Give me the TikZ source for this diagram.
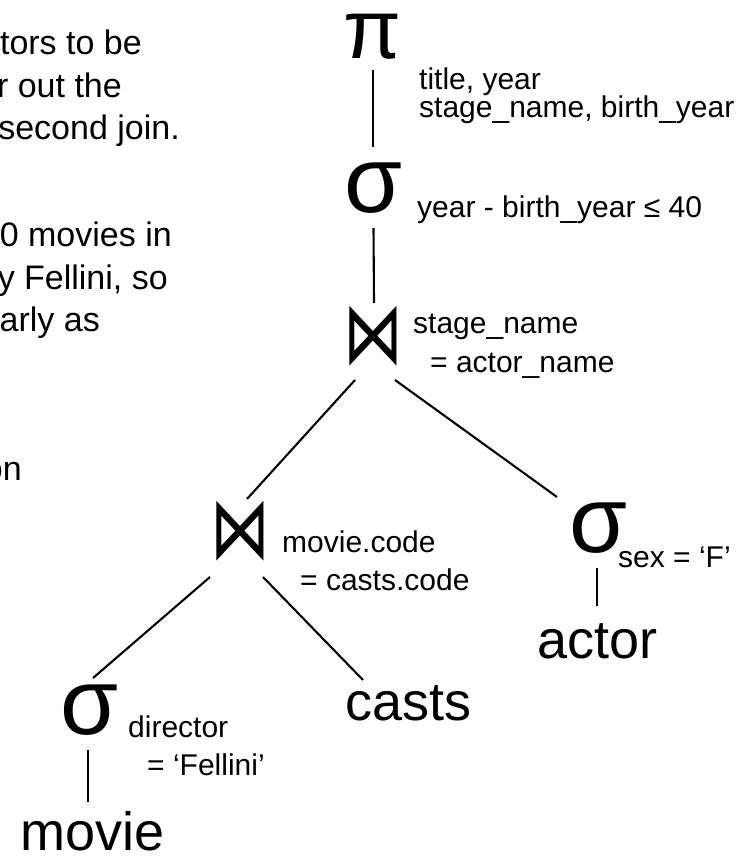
\documentclass[tikz,border=0pt]{standalone}
\usepackage{fontspec}
\setmainfont{Liberation Sans}
\newfontfamily\djvfont{DejaVu Sans}
\usetikzlibrary{calc}
\newcommand{\jointie}{\scalebox{0.83}[1.21]{⋈}}
\begin{document}
\begin{tikzpicture}[x=1pt,y=-1pt,
  side/.style={font=\fontsize{34}{40}\selectfont, anchor=base east, inner sep=0pt},
  lbl/.style={font=\fontsize{30}{30}\selectfont, anchor=base west, inner sep=0pt},
  rel/.style={font=\fontsize{54}{54}\selectfont, anchor=base west, inner sep=0pt},
  opsig/.style={font=\fontsize{94}{94}\selectfont, inner sep=0pt},
  oppi/.style={font=\fontsize{84}{84}\selectfont, inner sep=0pt},
  opjoin/.style={font=\djvfont\fontsize{72}{72}\selectfont, inner sep=0pt},
  edge/.style={line width=2.1pt, line cap=butt}]
\useasboundingbox (0,0) rectangle (744,858);
% clipped side text
\node[side] (t1) at (142,55) {tors to be};
\node[side] (t2) at (122,98) {r out the};
\node[side] (t3) at (180,140) {second join.};
\node[side] (t4) at (172,247) {0 movies in};
\node[side] (t5) at (168,289) {y Fellini, so};
\node[side] (t6) at (100,331) {arly as};
\node[side] (t7) at (22,480) {on};
% tree
\node[oppi] (pi) at (372,37) {π};
\node[lbl] (pil1) at (419,90) {title, year};
\node[lbl] (pil2) at (419,118) {stage\_name, birth\_year};
\node[opsig] (s1) at (373.5,188) {σ};
\node[lbl] (s1l) at (417,218) {year - birth\_year ≤ 40};
\node[opjoin] (j1) at (373,336) {\jointie};
\node[lbl] (j1l1) at (413,333) {stage\_name};
\node[lbl] (j1l2) at (430,372) {= actor\_name};
\node[opjoin] (j2) at (240.5,531) {\jointie};
\node[lbl] (j2l1) at (282,552) {movie.code};
\node[lbl] (j2l2) at (300,590) {= casts.code};
\node[opsig] (s2) at (598,528) {σ};
\node[lbl] (s2l) at (618,567) {sex = ‘F’};
\node[rel] (actor) at (537,658) {actor};
\node[opsig] (s3) at (89.5,710) {σ};
\node[lbl] (s3l1) at (128,737) {director};
\node[lbl] (s3l2) at (147,775) {= ‘Fellini’};
\node[rel] (casts) at (345,720) {casts};
\node[rel] (movie) at (20,850) {movie};
% connectors
\draw[edge] ($(pi)+(1,33)$) -- ($(s1)+(-0.5,-41)$);
\draw[edge] ($(s1)+(0,40)$) -- ($(j1)+(1,-33)$);
\draw[edge] ($(j1)+(-18,44)$) -- ($(j2)+(6.5,-32)$);
\draw[edge] ($(j1)+(22,44)$) -- ($(s2)+(-41,-31)$);
\draw[edge] ($(j2)+(-30.5,46)$) -- ($(s3)+(3.5,-32)$);
\draw[edge] ($(j2)+(22.5,46)$) -- ($(casts.base west)+(18,-40)$);
\draw[edge] ($(s3)+(-1.5,40)$) -- ($(movie.base west)+(68,-48)$);
\draw[edge] ($(s2)+(-1,40)$) -- ($(actor.base west)+(60,-52)$);
\end{tikzpicture}
\end{document}
